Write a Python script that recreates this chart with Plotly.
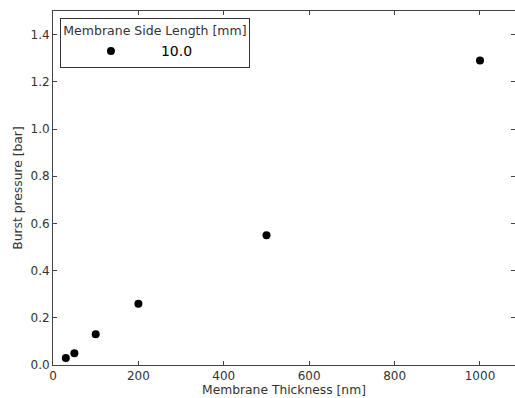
import plotly.graph_objects as go

thickness_nm = [30, 50, 100, 200, 500, 1000]
burst_bar = [0.03, 0.05, 0.13, 0.26, 0.55, 1.29]
series_name = "10.0"
legend_title = "Membrane Side Length [mm]"
x_ticks = [0, 200, 400, 600, 800, 1000]
y_ticks = [0.0, 0.2, 0.4, 0.6, 0.8, 1.0, 1.2, 1.4]

FONT = "DejaVu Sans"
TXT = "#333333"

fig = go.Figure()
fig.add_trace(go.Scatter(
    x=thickness_nm, y=burst_bar, mode="markers", name=series_name,
    marker=dict(color="black", size=8, line=dict(width=0)),
    showlegend=True,
))

axis_common = dict(
    showline=True, linecolor="#444444", linewidth=1, mirror="ticks",
    ticks="inside", ticklen=4, tickcolor="#444444", tickwidth=1,
    showgrid=False, zeroline=False,
    tickfont=dict(family=FONT, size=12, color=TXT),
)

fig.update_layout(
    width=515, height=398,
    margin=dict(l=53, r=0, t=11, b=33),
    paper_bgcolor="white", plot_bgcolor="white",
    font=dict(family=FONT, color=TXT),
    xaxis=dict(range=[0, 1082], tickvals=x_ticks,
               ticktext=[str(v) for v in x_ticks],
               title=dict(text="Membrane Thickness [nm]", standoff=1,
                          font=dict(family=FONT, size=12.3, color=TXT)),
               **axis_common),
    yaxis=dict(range=[0, 1.5], tickvals=y_ticks,
               ticktext=[f"{v:.1f}" for v in y_ticks],
               title=dict(text="Burst pressure [bar]", standoff=5,
                          font=dict(family=FONT, size=12.3, color=TXT)),
               **axis_common),
    legend=dict(
        x=0.015, y=0.98, xanchor="left", yanchor="top",
        bordercolor="#333333", borderwidth=1, bgcolor="white",
        title=dict(text=legend_title, side="top center",
                   font=dict(family=FONT, size=12.5, color=TXT)),
        font=dict(family=FONT, size=14, color="black"),
        itemwidth=90,
    ),
)

fig.write_html("out.html")
